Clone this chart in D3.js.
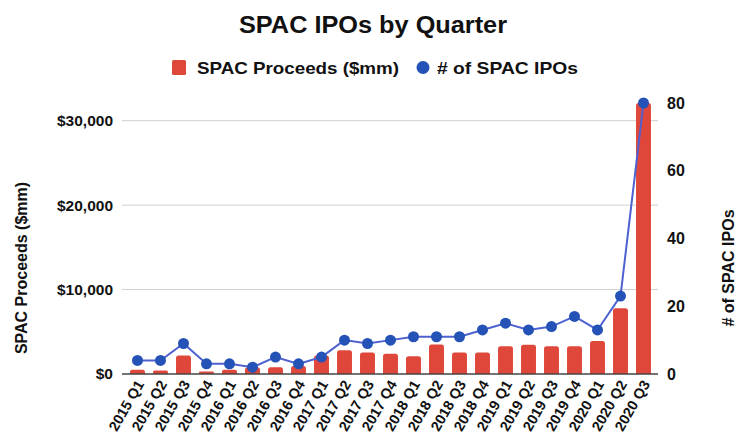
<!DOCTYPE html>
<html><head><meta charset="utf-8">
<script src="https://cdn.jsdelivr.net/npm/d3@7"></script>
<style>body{margin:0;background:#fff}svg{display:block;font-family:"Liberation Sans",Arial,sans-serif}</style>
</head><body><svg id="c" width="750" height="444"></svg>
<script>
const quarters = ["2015 Q1","2015 Q2","2015 Q3","2015 Q4","2016 Q1","2016 Q2","2016 Q3","2016 Q4","2017 Q1","2017 Q2","2017 Q3","2017 Q4","2018 Q1","2018 Q2","2018 Q3","2018 Q4","2019 Q1","2019 Q2","2019 Q3","2019 Q4","2020 Q1","2020 Q2","2020 Q3"];
const proceeds = [500,400,2200,300,500,800,800,950,2200,2800,2550,2400,2100,3500,2550,2550,3300,3450,3300,3300,3900,7800,32100];
const ipoCounts = [4,4,9,3,3,2,5,3,5,10,9,10,11,11,11,13,15,13,14,17,13,23,80];
const leftTicks = [0,10000,20000,30000];
const rightTicks = [0,20,40,60,80];

const svg = d3.select("#c");
const RED = "#e0473b", BLUE_L = "#4d61d0", BLUE_D = "#2452b6", TXT = "#111";
const FONT = "Liberation Sans, Arial, sans-serif";
const x = d3.scaleBand().domain(quarters).range([126,655]).paddingInner(0.35).paddingOuter(0.175);
const yL = d3.scaleLinear().domain([0,32100]).range([374,103]);
const yR = d3.scaleLinear().domain([0,80]).range([374,103]);

// title
svg.append("text").attr("x",373).attr("y",33).attr("text-anchor","middle")
  .attr("font-weight","bold").attr("font-size",23).attr("fill",TXT)
  .attr("textLength",268).attr("lengthAdjust","spacingAndGlyphs").text("SPAC IPOs by Quarter");

// legend
const lg = svg.append("g").attr("font-weight","bold").attr("font-size",17).attr("fill",TXT);
lg.append("rect").attr("x",172).attr("y",60).attr("width",14).attr("height",15).attr("rx",1.5).attr("fill",RED);
lg.append("text").attr("x",197).attr("y",74).attr("textLength",202).attr("lengthAdjust","spacingAndGlyphs").text("SPAC Proceeds ($mm)");
lg.append("circle").attr("cx",423).attr("cy",67.5).attr("r",6.5).attr("fill",BLUE_D);
lg.append("text").attr("x",437).attr("y",74).attr("textLength",141).attr("lengthAdjust","spacingAndGlyphs").text("# of SPAC IPOs");

// gridlines
svg.append("g").selectAll("line").data(leftTicks.filter(d=>d>0)).join("line")
  .attr("x1",122).attr("x2",658).attr("y1",d=>yL(d)).attr("y2",d=>yL(d))
  .attr("stroke","#cfcfcf").attr("stroke-width",1);

// left axis
const gL = svg.append("g").attr("transform","translate(122,0)")
  .call(d3.axisLeft(yL).tickValues(leftTicks).tickSize(0).tickPadding(9).tickFormat(d=>"$"+d3.format(",")(d)));
gL.select(".domain").remove();
gL.selectAll("text").attr("font-family",FONT).attr("font-weight","bold").attr("font-size",15.5).attr("fill",TXT);

// right axis
const gR = svg.append("g").attr("transform","translate(658,0)")
  .call(d3.axisRight(yR).tickValues(rightTicks).tickSize(0).tickPadding(9));
gR.select(".domain").remove();
gR.selectAll("text").attr("font-family",FONT).attr("font-weight","bold").attr("font-size",16).attr("fill",TXT);

// bars
svg.append("g").selectAll("path").data(quarters).join("path")
  .attr("fill",RED)
  .attr("d",(q,i)=>{
    const x0=x(q), w=x.bandwidth(), y0=yL(proceeds[i]), yb=yL(0), r=Math.min(2.5,(yb-y0)/2);
    return `M${x0},${yb}V${y0+r}Q${x0},${y0} ${x0+r},${y0}H${x0+w-r}Q${x0+w},${y0} ${x0+w},${y0+r}V${yb}Z`;
  });

// baseline
svg.append("line").attr("x1",122).attr("x2",658).attr("y1",yL(0)).attr("y2",yL(0)).attr("stroke","#444").attr("stroke-width",1.5);

// line + dots
const line = d3.line().x((d,i)=>x(quarters[i])+x.bandwidth()/2).y(d=>yR(d));
svg.append("path").datum(ipoCounts).attr("d",line).attr("fill","none").attr("stroke",BLUE_L).attr("stroke-width",2);
svg.append("g").selectAll("circle").data(ipoCounts).join("circle")
  .attr("cx",(d,i)=>x(quarters[i])+x.bandwidth()/2).attr("cy",d=>yR(d)).attr("r",5.5).attr("fill",BLUE_D);

// x axis labels
const gX = svg.append("g").attr("transform",`translate(0,${yL(0)})`)
  .call(d3.axisBottom(x).tickSize(0).tickPadding(0));
gX.select(".domain").remove();
gX.selectAll("text").attr("font-family",FONT).attr("font-weight","bold").attr("font-size",14.5).attr("fill",TXT)
  .attr("text-anchor","end").attr("dy",0).attr("y",0)
  .attr("transform","translate(7,10) rotate(-60)");

// axis titles
svg.append("text").attr("transform","translate(27,268) rotate(-90)").attr("text-anchor","middle")
  .attr("font-weight","bold").attr("font-size",16).attr("fill",TXT).text("SPAC Proceeds ($mm)");
svg.append("text").attr("transform","translate(734,268) rotate(-90)").attr("text-anchor","middle")
  .attr("font-weight","bold").attr("font-size",16).attr("fill",TXT).text("# of SPAC IPOs");
</script></body></html>
